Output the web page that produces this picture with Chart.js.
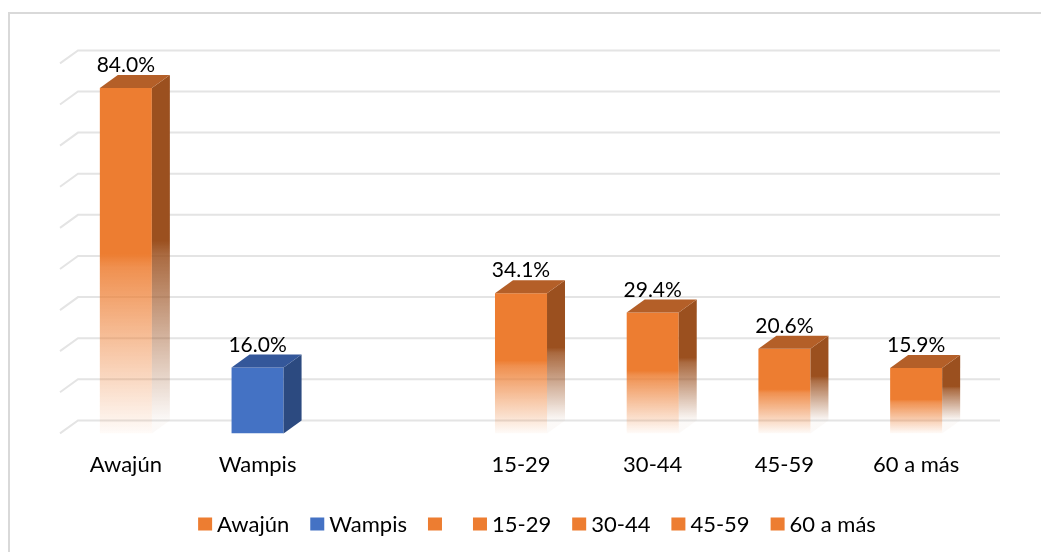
<!DOCTYPE html>
<html>
<head>
<meta charset="utf-8">
<script src="https://cdn.jsdelivr.net/npm/chart.js@4/dist/chart.umd.min.js"></script>
<style>
  html, body { margin: 0; padding: 0; background: #fff; }
  #wrap { width: 1041px; height: 552px; }
</style>
</head>
<body>
<div id="wrap"><canvas id="chart" width="1041" height="552"></canvas></div>
<script>
// data
const categories = ['Awajún', 'Wampis', '', '15-29', '30-44', '45-59', '60 a más'];
const values = [84.0, 16.0, null, 34.1, 29.4, 20.6, 15.9];
const gridValues = [0, 10, 20, 30, 40, 50, 60, 70, 80, 90];

// per bar colours: front, top, side, fades?
const ORANGE = { front: [237, 125, 49], top: '#B45F28', side: [155, 80, 31], fade: true };
const BLUE = { front: [68, 114, 196], top: '#34579A', side: [44, 74, 128], fade: false };
const barStyles = [ORANGE, BLUE, ORANGE, ORANGE, ORANGE, ORANGE, ORANGE];

const DX = 18, DY = 13; // depth of the 3d look
const FONT = '22px Lato';

function rgba(c, a) { return `rgba(${c[0]},${c[1]},${c[2]},${a})`; }

function fadeGradient(ctx, c, top, base, doFade) {
  const g = ctx.createLinearGradient(0, top, 0, base);
  g.addColorStop(0, rgba(c, 1));
  if (doFade) {
    g.addColorStop(0.48, rgba(c, 1));
    g.addColorStop(0.52, rgba(c, 0.85));
    g.addColorStop(0.75, rgba(c, 0.45));
    g.addColorStop(1, rgba(c, 0.03));
  } else {
    g.addColorStop(1, rgba(c, 1));
  }
  return g;
}

// frame + 3d back wall gridlines
const backWall = {
  id: 'backWall',
  beforeDraw(chart) {
    const ctx = chart.ctx;
    ctx.save();
    ctx.strokeStyle = '#D9D9D9';
    ctx.lineWidth = 2;
    ctx.beginPath();
    ctx.moveTo(9, chart.height);
    ctx.lineTo(9, 13);
    ctx.lineTo(chart.width, 13);
    ctx.stroke();
    ctx.restore();
  },
  beforeDatasetsDraw(chart) {
    const { ctx, chartArea } = chart;
    const y = chart.scales.y;
    ctx.save();
    ctx.strokeStyle = '#E4E4E4';
    ctx.lineWidth = 2;
    gridValues.forEach(v => {
      const py = y.getPixelForValue(v);
      ctx.beginPath();
      ctx.moveTo(chartArea.left, py);
      ctx.lineTo(chartArea.left + DX, py - DY);
      ctx.lineTo(chartArea.right + DX, py - DY);
      ctx.stroke();
    });
    ctx.restore();
  }
};

// side + top faces, value labels
const bars3d = {
  id: 'bars3d',
  afterDatasetsDraw(chart) {
    const ctx = chart.ctx;
    const meta = chart.getDatasetMeta(0);
    ctx.save();
    meta.data.forEach((bar, i) => {
      if (values[i] === null) return;
      const st = barStyles[i];
      const { x, y, base, width } = bar.getProps(['x', 'y', 'base', 'width'], true);
      const l = x - width / 2, r = x + width / 2;
      // side
      ctx.fillStyle = fadeGradient(ctx, st.side, y - DY, base - DY, st.fade);
      ctx.beginPath();
      ctx.moveTo(r, y);
      ctx.lineTo(r + DX, y - DY);
      ctx.lineTo(r + DX, base - DY);
      ctx.lineTo(r, base);
      ctx.closePath();
      ctx.fill();
      // top
      ctx.fillStyle = st.top;
      ctx.beginPath();
      ctx.moveTo(l, y);
      ctx.lineTo(l + DX, y - DY);
      ctx.lineTo(r + DX, y - DY);
      ctx.lineTo(r, y);
      ctx.closePath();
      ctx.fill();
      // label
      ctx.fillStyle = '#000';
      ctx.font = '21px Lato';
      ctx.textAlign = 'center';
      ctx.textBaseline = 'alphabetic';
      ctx.fillText(values[i].toFixed(1) + '%', x, y - 16);
    });
    ctx.restore();
  }
};

// legend: one entry per category
const legend = {
  id: 'catLegend',
  afterDraw(chart) {
    const ctx = chart.ctx;
    const box = 14, boxH = 13, gap = 5, spacing = 21, emptyW = 5;
    ctx.save();
    ctx.font = FONT;
    const widths = categories.map(c => c ? ctx.measureText(c).width : emptyW);
    let total = 0;
    widths.forEach((w, i) => { total += box + gap + w + (i < widths.length - 1 ? spacing : 0); });
    let x = 537 - total / 2;
    const cy = 524;
    categories.forEach((c, i) => {
      ctx.fillStyle = rgba(barStyles[i].front, 1);
      ctx.fillRect(x, cy - boxH / 2, box, boxH);
      ctx.fillStyle = '#000';
      ctx.textAlign = 'left';
      ctx.textBaseline = 'middle';
      if (c) ctx.fillText(c, x + box + gap, cy + 1);
      x += box + gap + widths[i] + spacing;
    });
    ctx.restore();
  }
};

new Chart(document.getElementById('chart'), {
  type: 'bar',
  data: {
    labels: categories,
    datasets: [{
      data: values,
      backgroundColor: ctx => {
        const st = barStyles[ctx.dataIndex];
        const ys = ctx.chart.scales.y;
        if (!ys || ctx.raw === null || ctx.raw === undefined) return rgba(st.front, 1);
        const top = ys.getPixelForValue(ctx.raw), base = ys.getPixelForValue(0);
        if (!isFinite(top) || !isFinite(base) || top === base) return rgba(st.front, 1);
        return fadeGradient(ctx.chart.ctx, st.front, top, base, st.fade);
      },
      borderWidth: 0,
      barPercentage: 0.395,
      categoryPercentage: 1
    }]
  },
  options: {
    responsive: false,
    animation: false,
    layout: { padding: { left: 60, right: 59, top: 63.4, bottom: 72.6 } },
    plugins: { legend: { display: false }, tooltip: { enabled: false } },
    scales: {
      x: {
        grid: { display: false },
        border: { display: false },
        ticks: { color: '#000', font: { family: 'Lato', size: 22 }, padding: 10, maxRotation: 0, autoSkip: false },
        afterFit: scale => { scale.height = 46; }
      },
      y: { display: false, min: 0, max: 90 }
    }
  },
  plugins: [backWall, bars3d, legend]
});
</script>
</body>
</html>
